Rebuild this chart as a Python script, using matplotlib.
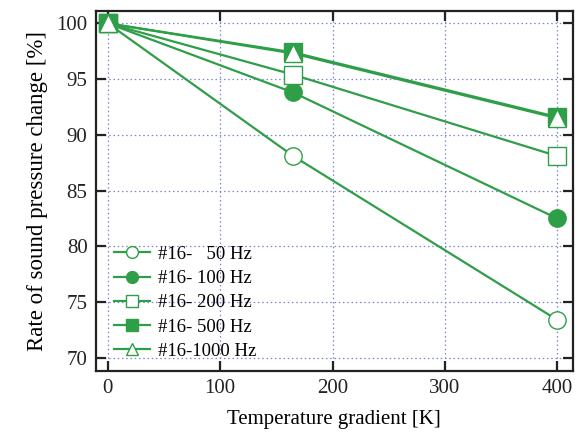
import matplotlib
matplotlib.use("Agg")
import matplotlib.pyplot as plt

plt.rcParams['font.family'] = ['Liberation Serif', 'DejaVu Serif']

# temperature gradient [K]
x = [0, 165, 400]
labels = ['#16-   50 Hz', '#16- 100 Hz', '#16- 200 Hz', '#16- 500 Hz', '#16-1000 Hz']
y50 = [100, 88.1, 73.4]
y100 = [100, 93.8, 82.5]
y200 = [100, 95.4, 88.1]
y500 = [100, 97.4, 91.6]
y1000 = [100, 97.3, 91.5]

green = '#2f9e48'
styles = [
    (y50, 'o', 'white', 12.5),
    (y100, 'o', green, 12.5),
    (y200, 's', 'white', 12.5),
    (y500, 's', green, 13),
    (y1000, '^', 'white', 12.5),
]

fig = plt.figure(figsize=(5.81, 4.45), dpi=100)
ax = fig.add_axes([0.165, 0.166, 0.821, 0.809])

for (ys, m, fc, ms), lab in zip(styles, labels):
    ax.plot(x, ys, color=green, lw=1.6, marker=m, ms=ms,
            markerfacecolor=fc, markeredgecolor=green, markeredgewidth=1.0,
            label=lab)

ax.set_xlim(-10.7, 414)
ax.set_ylim(68.8, 101.1)
ax.set_xticks([0, 100, 200, 300, 400])
ax.set_yticks([70, 75, 80, 85, 90, 95, 100])
ax.grid(True, color='#7b86d0', ls=(0, (1.2, 2.2)), lw=0.9)
ax.tick_params(direction='in', length=7, width=1.6, top=True, right=True,
               labelsize=15, pad=6, colors='#222222')
for s in ax.spines.values():
    s.set_linewidth(1.6)
    s.set_color('#222222')

ax.set_xlabel('Temperature gradient [K]', fontsize=15, labelpad=8)
ax.set_ylabel('Rate of sound pressure change [%]', fontsize=16.5, labelpad=6)

ax.legend(loc='lower left', frameon=False, fontsize=13.5, handlelength=1.9,
          handletextpad=0.45, labelspacing=0.38, borderaxespad=0.2,
          markerscale=0.68, bbox_to_anchor=(0.015, 0.0))

fig.savefig('out.png', dpi=100)
